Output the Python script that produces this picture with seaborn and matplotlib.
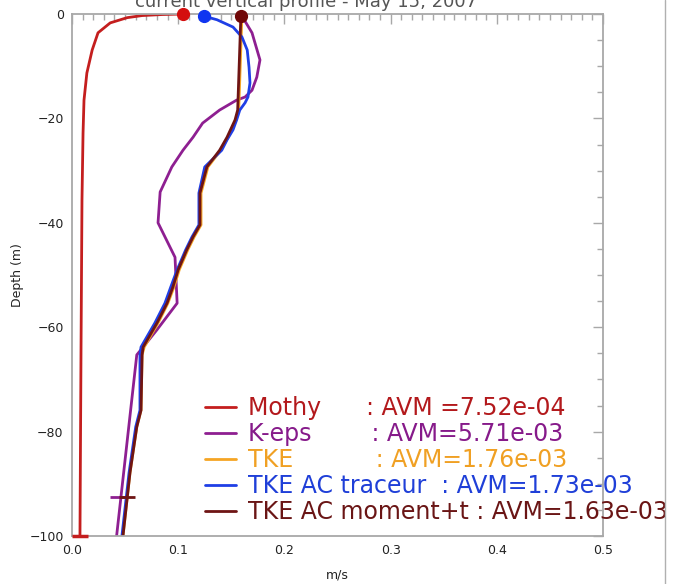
import matplotlib
matplotlib.use("Agg")
import matplotlib.pyplot as plt
from matplotlib.lines import Line2D
from matplotlib.ticker import MultipleLocator
import seaborn as sns
import numpy as np
import pandas as pd

# ---------------- data ----------------
mothy_depth = [0, -0.1, -0.3, -0.7, -1.7, -3.6, -6.9, -11.3, -16.5, -22.8, -35.6, -64, -100]
mothy_speed = [0.1045, 0.085, 0.066, 0.052, 0.036, 0.0245, 0.019, 0.014, 0.0113, 0.0104, 0.0094, 0.0085, 0.0075]

keps_depth = [-0.4, -3.6, -8.8, -12.1, -14.6, -15.9, -16.5, -18.4, -20.9, -23.6, -26.1,
              -29.3, -34.1, -40.0, -46.6, -55.4, -60.5, -63.8, -65.3, -100]
keps_speed = [0.160, 0.1695, 0.177, 0.174, 0.1695, 0.163, 0.155, 0.139, 0.123, 0.114, 0.1045,
              0.094, 0.083, 0.081, 0.097, 0.099, 0.080, 0.067, 0.061, 0.042]

tke_depth = [-0.4, -18.4, -20.3, -23.6, -26.1, -29.3, -34.3, -40.4, -42.7, -45.2, -49.0,
             -52.3, -55.4, -59.2, -63.8, -65.3, -75.9, -79.1, -87.9, -100]
tke_speed = [0.160, 0.157, 0.1545, 0.147, 0.140, 0.128, 0.1215, 0.1215, 0.115, 0.109, 0.101,
             0.096, 0.0903, 0.081, 0.068, 0.066, 0.065, 0.061, 0.0546, 0.048]

trac_depth = [-0.4, -1.1, -2.5, -4.4, -6.9, -10.2, -13.2, -15.9, -17.0, -18.4, -20.3, -22.2,
              -24.1, -26.1, -29.3, -34.3, -40.4, -42.7, -45.2, -49.0, -52.3, -55.4, -59.2,
              -63.8, -65.3, -75.9, -79.1, -87.9, -100]
trac_speed = [0.124, 0.1365, 0.1516, 0.160, 0.165, 0.1667, 0.1676, 0.1657, 0.163, 0.158, 0.155,
              0.1516, 0.146, 0.141, 0.125, 0.1195, 0.1195, 0.113, 0.107, 0.099, 0.093, 0.0875,
              0.078, 0.065, 0.064, 0.064, 0.060, 0.0537, 0.047]

mom_depth = [-0.4, -18.4, -20.3, -23.6, -26.1, -29.3, -34.3, -40.4, -42.7, -45.2, -49.0,
             -52.3, -55.4, -59.2, -63.8, -65.3, -75.9, -79.1, -87.9, -100]
mom_speed = [0.159, 0.156, 0.1535, 0.146, 0.139, 0.127, 0.1205, 0.1205, 0.114, 0.108, 0.100,
             0.095, 0.0895, 0.080, 0.067, 0.066, 0.065, 0.061, 0.0546, 0.048]

labels = ["Mothy      : AVM =7.52e-04",
          "K-eps        : AVM=5.71e-03",
          "TKE           : AVM=1.76e-03",
          "TKE AC traceur  : AVM=1.73e-03",
          "TKE AC moment+t : AVM=1.63e-03"]

# depth / speed of the bar ("+") markers
bar_marks_keps = (-92.5, 0.0435)
bar_marks_mom = (-92.5, 0.0515)
bar_marks_mothy = (-100, 0.0075)

line_colors = ["#c41e1e", "#8e1f91", "#f5a524", "#1f3fe6", "#6e1414"]
text_colors = ["#b3191c", "#861a8a", "#f0a023", "#1f3fd8", "#6a1515"]
marker_colors = ["#d40f0f", None, None, "#1035f0", "#700808"]

# ---------------- figure ----------------
sns.set_theme(style="white")
plt.rcParams["font.family"] = ["DejaVu Sans"]

fig = plt.figure(figsize=(6.85, 5.84), dpi=100)
ax = fig.add_axes([72/685, 1-536/584, (603-72)/685, (536-14)/584])

series = [(mothy_speed, mothy_depth), (keps_speed, keps_depth), (tke_speed, tke_depth),
          (trac_speed, trac_depth), (mom_speed, mom_depth)]
for (sp, dp), c in zip(series, line_colors):
    sns.lineplot(x=sp, y=dp, sort=False, estimator=None, color=c, lw=2.0, ax=ax, legend=False)

# top markers
for (sp, dp), mc in zip(series, marker_colors):
    if mc is not None:
        ax.plot(sp[0], dp[0], "o", color=mc, ms=8.5, zorder=5, clip_on=False)

# bar markers
ax.plot(bar_marks_keps[1], bar_marks_keps[0], "_", color=line_colors[1], ms=12, mew=2, zorder=4)
ax.plot(bar_marks_mom[1], bar_marks_mom[0], "_", color=line_colors[4], ms=12, mew=2, zorder=4)
ax.plot(bar_marks_mothy[1], bar_marks_mothy[0], "_", color=line_colors[0], ms=12, mew=2.5,
        zorder=4, clip_on=False)

ax.set_xlim(0, 0.5)
ax.set_ylim(-100, 0)
ax.xaxis.set_major_locator(MultipleLocator(0.1))
ax.xaxis.set_minor_locator(MultipleLocator(0.01))
ax.yaxis.set_major_locator(MultipleLocator(20))
ax.yaxis.set_minor_locator(MultipleLocator(5))
ax.xaxis.set_major_formatter(matplotlib.ticker.FormatStrFormatter("%.1f"))
ax.yaxis.set_major_formatter(matplotlib.ticker.FuncFormatter(lambda v, p: f"{int(v)}".replace("-", "\u2212")))

spine_c = "#a8a8a8"
for s in ax.spines.values():
    s.set_color(spine_c)
    s.set_linewidth(1.3)
ax.tick_params(which="both", direction="in", top=True, right=True, color=spine_c,
               labelsize=9, labelcolor="#222222", pad=6)
ax.tick_params(which="major", length=7, width=1.0)
ax.tick_params(which="minor", length=4, width=1.0)
ax.set_xlabel("m/s", fontsize=9, color="#222222", labelpad=8)
ax.set_ylabel("Depth (m)", fontsize=9, color="#222222", labelpad=4)

# legend
handles = [Line2D([0], [0], color=c, lw=2) for c in line_colors]
leg = ax.legend(handles, labels, loc="upper left", bbox_to_anchor=((205-72)/531, 1-(396-14)/522),
                frameon=False, fontsize=17, handlelength=1.3, handletextpad=0.5,
                labelspacing=0.085, borderaxespad=0, borderpad=0)
for t, c in zip(leg.get_texts(), text_colors):
    t.set_color(c)

# title (cut off at the top as in the reference)
fig.text(306/685, 0.997, "current vertical profile - May 15, 2007", ha="center", va="center",
         fontsize=13, color="#555555")

# neighbouring panel edge
fig.add_artist(Line2D([665/685, 665/685], [0, 1], transform=fig.transFigure,
                      color="#b0b0b0", lw=1.0))

fig.savefig("out.png", dpi=100)
